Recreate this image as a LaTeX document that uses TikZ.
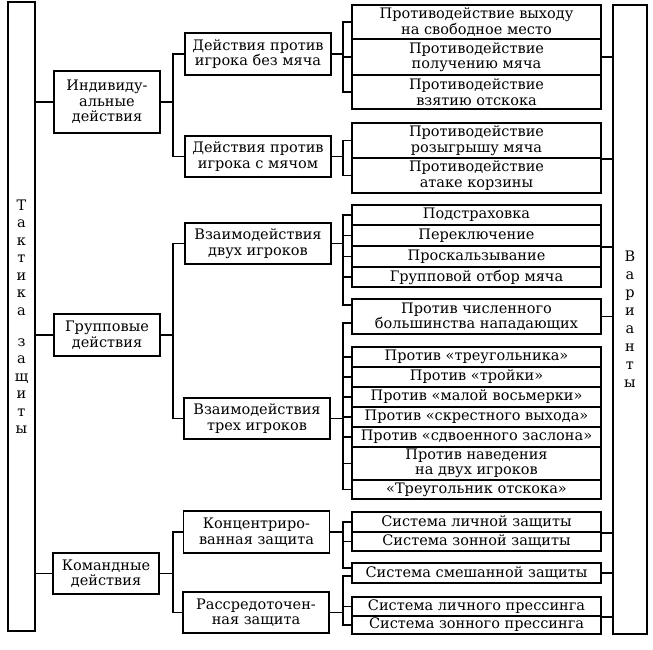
\documentclass[tikz,border=0pt]{standalone}
\usepackage{fontspec}
\setmainfont{DejaVu Serif}
\usetikzlibrary{calc}
\tikzset{
  blk/.style={draw, line width=1.5pt, align=center, inner sep=0pt,
    font=\fontsize{14.5}{15.5}\selectfont},
  lone/.style={blk, minimum width=106pt},
  ltwo/.style={blk, minimum width=146pt},
  lthree/.style={blk, minimum width=249pt},
  tall/.style={blk, minimum width=27pt, font=\fontsize{14.5}{17.5}\selectfont},
  lnk/.style={line width=1.5pt}
}

\begin{document}
\begin{tikzpicture}[x=1pt,y=-1pt]
                \useasboundingbox (0,0) rectangle (653,650);

                %the two tall boxes at both sides
                \node (tact) at (21.5,316.5) [tall, minimum height=629pt]{Т\\а\\к\\т\\и\\к\\а\\[13.5pt]з\\а\\щ\\и\\т\\ы};
                \node (var) at (630,319.5) [tall, minimum width=34pt, minimum height=629pt, font=\fontsize{14.5}{18}\selectfont]{В\\а\\р\\и\\а\\н\\т\\ы};

                %first level
                \node (ind) at (107,102) [lone, minimum height=62pt]{Индивиду-\\альные\\действия};
                \node (grp) at (107,335) [lone, minimum height=42pt]{Групповые\\действия};
                \node (cmd) at (106,573.5) [lone, minimum height=41pt]{Командные\\действия};

                %second level
                \node (nobal) at (258,54) [ltwo, minimum height=42pt]{Действия против\\игрока без мяча};
                \node (bal) at (258,156.5) [ltwo, minimum height=41pt]{Действия против\\игрока с мячом};
                \node (two) at (258,243.5) [ltwo, minimum height=41pt]{Взаимодействия\\двух игроков};
                \node (three) at (257,418.5) [ltwo, minimum height=41pt]{Взаимодействия\\трех игроков};
                \node (conc) at (256.5,532) [ltwo, minimum height=42pt]{Концентриро-\\ванная защита};
                \node (disp) at (256,612.5) [ltwo, minimum height=41pt]{Рассредоточен-\\ная защита};

                %third level, against a player without the ball
                \node (free) at (476.5,22) [lthree, minimum height=34pt]{Противодействие выходу\\на свободное место};
                \node (recv) at (476.5,57) [lthree, minimum height=36pt]{Противодействие\\получению мяча};
                \node (rebd) at (476.5,92) [lthree, minimum height=34pt]{Противодействие\\взятию отскока};

                %against a player with the ball
                \node (play) at (476.5,140.5) [lthree, minimum height=35pt]{Противодействие\\розыгрышу мяча};
                \node (bskt) at (476.5,175.5) [lthree, minimum height=35pt]{Противодействие\\атаке корзины};

                %two players
                \node (cover) at (476.5,215) [lthree, minimum height=20pt]{Подстраховка};
                \node (swit) at (476.5,235.5) [lthree, minimum height=21pt]{Переключение};
                \node (slip) at (476.5,256.5) [lthree, minimum height=21pt]{Проскальзывание};
                \node (steal) at (476.5,277) [lthree, minimum height=20pt]{Групповой отбор мяча};
                \node (major) at (476.5,316.5) [lthree, minimum height=35pt]{Против численного\\большинства нападающих};

                %three players
                \node (tri) at (476.5,357) [lthree, minimum height=20pt]{Против «треугольника»};
                \node (trio) at (476.5,377) [lthree, minimum height=20pt]{Против «тройки»};
                \node (eight) at (476.5,397) [lthree, minimum height=20pt]{Против «малой восьмерки»};
                \node (cross) at (476.5,417) [lthree, minimum height=20pt]{Против «скрестного выхода»};
                \node (dbl) at (476.5,437) [lthree, minimum height=20pt]{Против «сдвоенного заслона»};
                \node (pick) at (476.5,463.5) [lthree, minimum height=33pt]{Против наведения\\на двух игроков};
                \node (tribd) at (476.5,489.5) [lthree, minimum height=19pt]{«Треугольник отскока»};

                %team defence systems
                \node (man) at (476.5,522) [lthree, minimum height=20pt]{Система личной защиты};
                \node (zone) at (476.5,541.5) [lthree, minimum height=19pt]{Система зонной защиты};
                \node (mixd) at (476.5,573) [lthree, minimum height=20pt]{Система смешанной защиты};
                \node (mpress) at (476.5,606.5) [lthree, minimum height=19pt]{Система личного прессинга};
                \node (zpress) at (476.5,625) [lthree, minimum height=18pt]{Система зонного прессинга};

                %x of the brackets
                \coordinate (ka) at (173,0);
                \coordinate (kb) at (343,0);

                %tall box to first level
                \draw[lnk] (ind.west) -- (ind.west -| tact.east);
                \draw[lnk] (grp.west) -- (grp.west -| tact.east);
                \draw[lnk] (cmd.west) -- (cmd.west -| tact.east);

                %first level to second level
                \draw[lnk] (ind.east) -- (ind.east -| ka);
                \draw[lnk] (nobal.west) -- (nobal.west -| ka) -- (bal.west -| ka) -- (bal.west);
                \draw[lnk] (grp.east) -- (grp.east -| ka);
                \draw[lnk] (two.west) -- (two.west -| ka) -- (three.west -| ka) -- (three.west);
                \draw[lnk] (cmd.east) -- (cmd.east -| ka);
                \draw[lnk] (conc.west) -- (conc.west -| ka) -- (disp.west -| ka) -- (disp.west);

                %second level to third level
                \draw[lnk] (nobal.east) -- (nobal.east -| kb);
                \draw[lnk] (free.west) -- (free.west -| kb) -- (rebd.west -| kb) -- (rebd.west);
                \draw[lnk] (recv.west) -- (recv.west -| kb);

                \draw[lnk] (bal.east) -- (bal.east -| kb);
                \draw[lnk] (play.west) -- (play.west -| kb) -- (bskt.west -| kb) -- (bskt.west);

                \draw[lnk] (two.east) -- (two.east -| kb);
                \draw[lnk] (cover.west) -- (cover.west -| kb) -- ([yshift=11.5pt]major.west -| kb) -- ([yshift=11.5pt]major.west);
                \draw[lnk] (swit.west) -- (swit.west -| kb);
                \draw[lnk] (slip.west) -- (slip.west -| kb);
                \draw[lnk] (steal.west) -- (steal.west -| kb);

                \draw[lnk] (three.east) -- (three.east -| kb);
                \draw[lnk] ([yshift=-6.5pt]major.west) -- ([yshift=-6.5pt]major.west -| kb) -- (tribd.west -| kb) -- (tribd.west);
                \draw[lnk] (tri.west) -- (tri.west -| kb);
                \draw[lnk] (trio.west) -- (trio.west -| kb);
                \draw[lnk] (eight.west) -- (eight.west -| kb);
                \draw[lnk] (cross.west) -- (cross.west -| kb);
                \draw[lnk] (dbl.west) -- (dbl.west -| kb);
                \draw[lnk] (pick.west) -- (pick.west -| kb);

                \draw[lnk] (conc.east) -- (conc.east -| kb);
                \draw[lnk] (man.west) -- (man.west -| kb) -- ([yshift=5pt]mixd.west -| kb) -- ([yshift=5pt]mixd.west);
                \draw[lnk] (zone.west) -- (zone.west -| kb);

                \draw[lnk] (disp.east) -- (disp.east -| kb);
                \draw[lnk] ([yshift=-3pt]mixd.west) -- ([yshift=-3pt]mixd.west -| kb) -- (zpress.west -| kb) -- (zpress.west);
                \draw[lnk] (mpress.west) -- (mpress.west -| kb);

                %third level to the right tall box
                \draw[lnk] (recv.east) -- (recv.east -| var.west);
                \draw[lnk] (play.south east) -- (play.south east -| var.west);
                \draw[lnk] (swit.south east) -- (swit.south east -| var.west);
                \draw[lnk] (major.east) -- (major.east -| var.west);
                \draw[lnk] ($(tri.north east)!0.5!(tribd.south east)$) -- ($(tri.north east)!0.5!(tribd.south east)$ -| var.west);
                \draw[lnk] (man.south east) -- (man.south east -| var.west);
                \draw[lnk] (mixd.east) -- (mixd.east -| var.west);
                \draw[lnk] (mpress.south east) -- (mpress.south east -| var.west);
            \end{tikzpicture}
\end{document}
